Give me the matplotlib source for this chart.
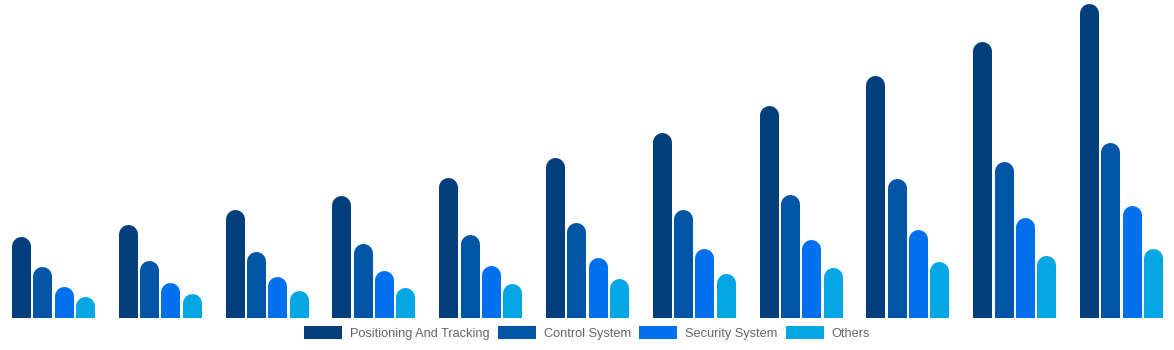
import matplotlib
matplotlib.use("Agg")
import matplotlib.pyplot as plt
from matplotlib.patches import Patch
import numpy as np

series_names = ["Positioning And Tracking", "Control System", "Security System", "Others"]
colors = ["#023e7b", "#0055a6", "#0070ee", "#05a6e4"]
positioning = [82, 94, 109, 123, 141, 161, 186, 213, 243, 277, 315]
control = [52, 58, 67, 75, 84, 96, 109, 124, 140, 157, 176]
security = [32, 36, 42, 48, 53, 61, 70, 79, 89, 101, 113]
others = [22, 25, 28, 31, 35, 40, 45, 51, 57, 63, 70]
series = [positioning, control, security, others]

W, H, DPI = 1174, 350, 100
fig = plt.figure(figsize=(W / DPI, H / DPI), dpi=DPI)
base_px = 32
top_px = 350
ax = fig.add_axes([0, base_px / H, 1, (top_px - base_px) / H])
ax.set_ylim(0, top_px - base_px)
pitch = 106.8
ax.set_xlim(-53 / pitch, -53 / pitch + W / pitch)
ax.axis("off")

bar_px = 19
step_px = 21.3
lw_pt = bar_px * 72 / DPI
r = bar_px / 2
x = np.arange(len(positioning))
for k, (vals, c) in enumerate(zip(series, colors)):
    xs = x + (k - 1.5) * step_px / pitch
    ax.vlines(xs, -20, np.array(vals) - r, colors=c, linewidth=lw_pt,
              capstyle="round")

handles = [Patch(facecolor=c, edgecolor="none") for c in colors]
fig.legend(handles, series_names, loc="center", bbox_to_anchor=(0.5, 1 - 333 / H),
           ncol=4, frameon=False, handlelength=3.0, handleheight=1.2,
           handletextpad=0.6, columnspacing=0.65, labelcolor="#666666",
           prop={"family": "Liberation Sans", "size": 9.2})
fig.savefig("out.png", dpi=DPI)
